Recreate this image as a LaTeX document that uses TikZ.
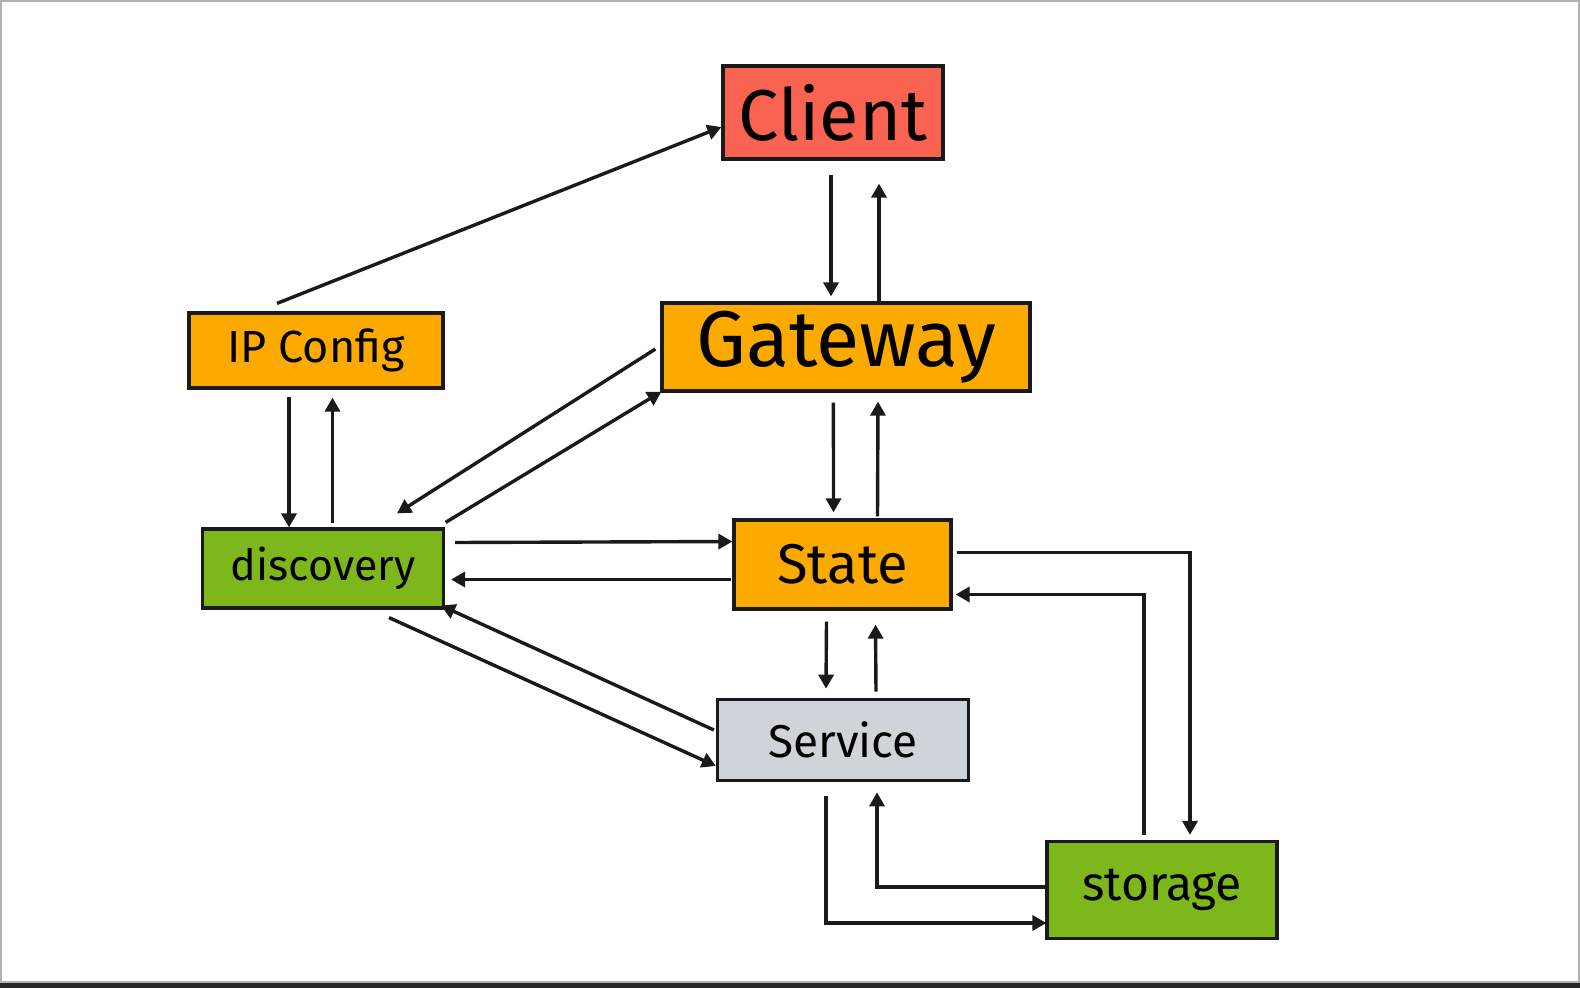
\documentclass[tikz,border=0pt]{standalone}
\usepackage{fontspec}
\setmainfont{Fira Sans}
\usetikzlibrary{calc,arrows.meta}
\definecolor{cred}{HTML}{FA6352}
\definecolor{corange}{HTML}{FDAA00}
\definecolor{cgreen}{HTML}{7DB71C}
\definecolor{cgray}{HTML}{CED4DA}
\definecolor{cline}{HTML}{1A1A1A}
\begin{document}
\begin{tikzpicture}[x=1pt,y=-1pt,
  box/.style={draw=cline,line width=3.2pt,inner sep=0pt,text=black},
  arr/.style={draw=cline,line width=3.4pt,-{Triangle[length=14pt,width=15pt]}}]
\useasboundingbox (0,0) rectangle (1580,988);
\fill[white] (0,0) rectangle (1580,988);
\draw[gray!60,line width=1.5pt] (1,1) rectangle (1579,982);
\fill[black!85] (0,982.5) rectangle (1580,988);

\node[box,fill=cred,minimum width=220pt,minimum height=93pt,font=\fontsize{72}{72}\selectfont] (client) at (833,112.5) {Client};
\node[box,fill=corange,minimum width=254pt,minimum height=75pt,font=\fontsize{45}{45}\selectfont] (ip) at (316,350.5) {IP Config};
\node[box,fill=corange,minimum width=368pt,minimum height=88pt,font=\fontsize{79}{79}\selectfont] (gw) at (846,347) {Gateway};
\node[box,fill=cgreen,minimum width=241pt,minimum height=79pt,font=\fontsize{43}{43}\selectfont] (disc) at (323,568.5) {discovery};
\node[box,fill=corange,minimum width=217pt,minimum height=89pt,font=\fontsize{56}{56}\selectfont] (state) at (842.5,564.5) {State};
\node[box,fill=cgray,minimum width=251pt,minimum height=81.5pt,font=\fontsize{46}{46}\selectfont] (svc) at (843,740) {Service};
\node[box,fill=cgreen,minimum width=230pt,minimum height=97pt,font=\fontsize{48}{48}\selectfont] (stor) at (1162,890) {storage};

% IP Config -> Client
\draw[arr] ($(ip.north)+(-39,-8)$) -- ($(client.west)+(0,14.5)$);
% Client <-> Gateway
\draw[arr] ($(client.south)+(-2,14)$) -- ($(gw.north)+(-15,-5)$);
\draw[arr] ($(gw.north)+(33,0)$) -- ($(client.south)+(46,23)$);
% Gateway <-> State
\draw[arr] ($(gw.south)+(-12.6,10)$) -- ($(state.north)+(-9,-6)$);
\draw[arr] ($(state.north)+(35,-2)$) -- ($(gw.south)+(32,9)$);
% IP Config <-> discovery
\draw[arr] ($(ip.south)+(-27,7)$) -- ($(disc.north)+(-34,0)$);
\draw[arr] ($(disc.north)+(9.5,-4)$) -- ($(ip.south)+(16.5,8)$);
% Gateway <-> discovery
\draw[arr] ($(gw.west)+(-5,2)$) -- ($(disc.north)+(74,-14)$);
\draw[arr] ($(disc.north east)+(0.5,-5)$) -- ($(gw.south west)+(1,-1)$);
% discovery <-> State
\draw[arr] ($(disc.east)+(10,-26)$) -- ($(state.west)+(0,-23)$);
\draw[arr] ($(state.west)+(-1,15)$) -- ($(disc.east)+(6,11)$);
% discovery <-> Service
\draw[arr] ($(disc.south)+(66,8)$) -- ($(svc.west)+(0,26)$);
\draw[arr] ($(svc.west)+(-2,-10)$) -- ($(disc.south east)+(-4,-4)$);
% State <-> Service
\draw[arr] ($(state.south)+(-16,11)$) -- ($(svc.north)+(-17,-9)$);
\draw[arr] ($(svc.north)+(33,-6)$) -- ($(state.south)+(33,14)$);
% State <-> storage
\draw[arr] ($(state.east)+(4,-12)$) -| ($(stor.north)+(28,-5)$);
\draw[arr] ($(stor.north)+(-18,-5)$) |- ($(state.east)+(3,30)$);
% Service <-> storage
\draw[arr] ($(svc.south)+(-17,14)$) |- ($(stor.west)+(1,33)$);
\draw[arr] ($(stor.west)+(0,-3)$) -| ($(svc.south)+(34,10)$);
\end{tikzpicture}
\end{document}
